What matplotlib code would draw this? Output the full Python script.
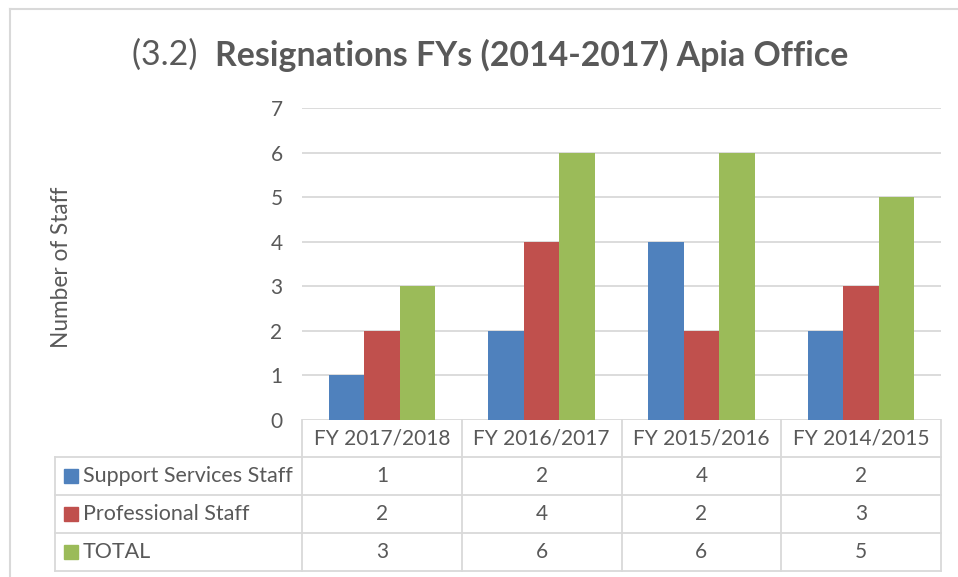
import matplotlib
matplotlib.use("Agg")
import matplotlib.pyplot as plt
from matplotlib.patches import Rectangle
from matplotlib.lines import Line2D
import matplotlib.transforms as mtransforms

categories = ["FY 2017/2018", "FY 2016/2017", "FY 2015/2016", "FY 2014/2015"]
series_names = ["Support Services Staff", "Professional Staff", "TOTAL"]
support = [1, 2, 4, 2]
professional = [2, 4, 2, 3]
total = [3, 6, 6, 5]
colors = ["#4F81BD", "#C0504D", "#9BBB59"]
yticks = [0, 1, 2, 3, 4, 5, 6, 7]

FONT = "Lato"
TXT = "#595959"
GRID = "#D9D9D9"
W, H = 958, 577

plt.rcParams["font.family"] = [FONT, "DejaVu Sans"]
fig = plt.figure(figsize=(W / 100, H / 100), dpi=100)

def fx(px):
    return px / W

def fy(py):
    return 1 - py / H

# outer chart border (left and top visible)
fig.add_artist(Line2D([fx(10), fx(10)], [fy(9), fy(590)], color=GRID, lw=1.5, transform=fig.transFigure))
fig.add_artist(Line2D([fx(10), fx(970)], [fy(9), fy(9)], color=GRID, lw=1.5, transform=fig.transFigure))

ax = fig.add_axes([fx(302), fy(420), fx(941) - fx(302), fy(108) - fy(420)])
data = [support, professional, total]
n = len(data)
bw = 0.222
for i, (vals, c) in enumerate(zip(data, colors)):
    xs = [k + (i - (n - 1) / 2) * bw for k in range(len(categories))]
    ax.bar(xs, vals, width=bw, color=c, zorder=3)

ax.set_xlim(-0.5, len(categories) - 0.5)
ax.set_ylim(0, 7)
ax.set_yticks(yticks)
ax.set_yticklabels([str(t) for t in yticks], fontsize=15, color=TXT)
ax.tick_params(axis="y", length=0, pad=14)
ax.set_xticks([])
for s in ax.spines.values():
    s.set_visible(False)
ax.yaxis.grid(True, color=GRID, lw=1.3, zorder=0)
ax.set_axisbelow(True)

fig.text(fx(62), fy(267), "Number of Staff", rotation=90, ha="center", va="center",
         fontsize=16.3, color=TXT)

# title: regular prefix + bold rest, centered as a whole
fig.canvas.draw()
r = fig.canvas.get_renderer()
t1 = fig.text(0, fy(55), "(3.2)  ", fontsize=24.4, color=TXT, va="center")
t2 = fig.text(0, fy(55), "Resignations FYs (2014-2017) Apia Office", fontsize=24.4,
              fontweight="bold", color=TXT, va="center")
w1 = t1.get_window_extent(r).width
w2 = t2.get_window_extent(r).width
start = 490 - (w1 + w2) / 2
t1.set_x(fx(start))
t2.set_x(fx(start + w1))

# data table
blend = mtransforms.blended_transform_factory(ax.transData, fig.transFigure)
row_edges = [420, 457, 495, 533, 571]
lw = 1.3
for k in range(len(categories) + 1):
    xb = k - 0.5
    fig.add_artist(Line2D([xb, xb], [fy(row_edges[0]), fy(row_edges[-1])], color=GRID, lw=lw,
                          transform=blend))
for yy in row_edges[1:]:
    fig.add_artist(Line2D([fx(55), fx(941)], [fy(yy), fy(yy)], color=GRID, lw=lw,
                          transform=fig.transFigure))
fig.add_artist(Line2D([fx(55), fx(55)], [fy(row_edges[1]), fy(row_edges[-1])], color=GRID, lw=lw,
                      transform=fig.transFigure))
for k, cat in enumerate(categories):
    fig.text(k, fy((row_edges[0] + row_edges[1]) / 2), cat, transform=blend, ha="center",
             va="center", fontsize=15, color=TXT)
for i, (name, vals, c) in enumerate(zip(series_names, data, colors)):
    yc = fy((row_edges[i + 1] + row_edges[i + 2]) / 2)
    fig.add_artist(Rectangle((fx(64), yc - (14 / H) / 2), 14 / W, 14 / H, color=c,
                             transform=fig.transFigure))
    fig.text(fx(83), yc, name, ha="left", va="center", fontsize=15.5, color=TXT)
    for k, v in enumerate(vals):
        fig.text(k, yc, str(v), transform=blend, ha="center", va="center", fontsize=15, color=TXT)

fig.savefig("out.png", dpi=100, facecolor="white")
